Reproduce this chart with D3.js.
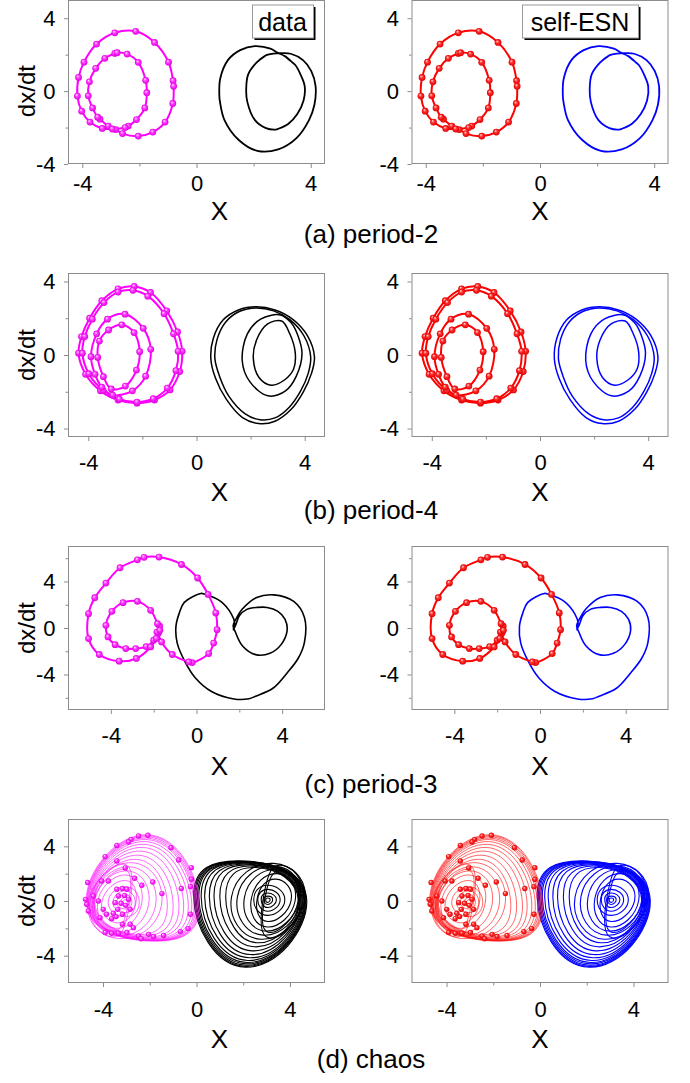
<!DOCTYPE html>
<html>
<head>
<meta charset="utf-8">
<script src="https://cdn.jsdelivr.net/npm/d3@7"></script>
<style>
  body { margin: 0; background: #fff; }
  text { font-family: "Liberation Sans", Arial, sans-serif; fill: #000; }
</style>
</head>
<body>
<svg id="fig" width="690" height="1083"></svg>
<script>
// ---------------- data ----------------
const captions = ["(a) period-2", "(b) period-4", "(c) period-3", "(d) chaos"];
const legendLabels = ["data", "self-ESN"];
const xLabel = "X";
const yLabel = "dx/dt";

const rowXDomains = [[-4.5, 4.5], [-4.75, 4.75], [-6, 6], [-5.5, 5.5]];
const rowYDomains = [[-4, 5], [-4.46, 4.46], [-7.05, 7.05], [-6, 6]];
const xMajorTicks = [-4, 0, 4];
const yMajorTicks = [-4, 0, 4];
const xMinorTicks = [[-2, 2], [-2, 2], [-2, 2], [-2, 2]];
const yMinorTicks = [[-2, 2], [-2, 2], [-6, -2, 2, 6], [-2, 2]];

// period-2 orbit, left well (sampled points, in orbit order)
const period2Left = [[-2.86,3.20],[-2.13,3.28],[-1.47,2.67],[-0.98,1.59],[-0.82,0.57],[-0.80,0.27],[-0.83,-0.68],[-1.10,-1.70],[-1.53,-2.25],[-2.04,-2.47],[-2.59,-2.33],[-2.83,-2.11],[-3.09,-1.92],[-3.38,-1.54],[-3.46,-1.43],[-3.64,-0.92],[-3.79,-0.26],[-3.75,0.51],[-3.53,1.25],[-3.21,1.80],[-2.86,2.07],[-2.78,2.11],[-2.43,2.03],[-2.04,1.58],[-1.78,0.59],[-1.74,-0.09],[-1.81,-0.92],[-2.10,-1.56],[-2.39,-1.92],[-2.50,-2.00],[-2.95,-2.08],[-3.30,-2.05],[-3.73,-1.70],[-4.02,-1.10],[-4.17,-0.27],[-4.13,0.75],[-3.94,1.59],[-3.50,2.58]];
// period-2 orbit, right well
const period2Right = [[2.86,-3.20],[2.13,-3.28],[1.47,-2.67],[0.98,-1.59],[0.82,-0.57],[0.80,-0.27],[0.83,0.68],[1.10,1.70],[1.53,2.25],[2.04,2.47],[2.59,2.33],[2.83,2.11],[3.09,1.92],[3.38,1.54],[3.46,1.43],[3.64,0.92],[3.79,0.26],[3.75,-0.51],[3.53,-1.25],[3.21,-1.80],[2.86,-2.07],[2.78,-2.11],[2.43,-2.03],[2.04,-1.58],[1.78,-0.59],[1.74,0.09],[1.81,0.92],[2.10,1.56],[2.39,1.92],[2.50,2.00],[2.95,2.08],[3.30,2.05],[3.73,1.70],[4.02,1.10],[4.17,0.27],[4.13,-0.75],[3.94,-1.59],[3.50,-2.58]];

// period-4 turns, left well
const period4Left = [
  [[-2.9,3.6],[-2.3,3.73],[-1.7,3.4],[-1.1,2.4],[-0.7,1.25],[-0.53,0.2],[-0.62,-0.9],[-0.98,-1.9],[-1.55,-2.45],[-2.2,-2.62],[-2.9,-2.45],[-3.55,-1.95],[-4.1,-1.05],[-4.36,0.1],[-4.25,1.0],[-3.95,2.0],[-3.5,2.95]],
  [[-2.9,3.42],[-2.35,3.52],[-1.8,3.2],[-1.2,2.25],[-0.85,1.15],[-0.68,0.2],[-0.76,-0.85],[-1.08,-1.8],[-1.6,-2.38],[-2.2,-2.56],[-2.85,-2.4],[-3.45,-1.92],[-3.98,-1.02],[-4.22,0.1],[-4.13,1.0],[-3.85,1.95],[-3.42,2.85]],
  [[-3.29,1.95],[-2.64,2.22],[-1.97,1.45],[-1.69,0.31],[-1.88,-1.15],[-2.37,-1.95],[-3.10,-2.18],[-3.5,-1.75],[-3.75,-1.05],[-3.90,-0.09],[-3.69,1.15]],
  [[-2.76,1.64],[-2.31,1.22],[-2.10,0.18],[-2.22,-0.82],[-2.63,-1.69],[-3.15,-1.85],[-3.44,-1.18],[-3.65,-0.13],[-3.59,0.76],[-3.25,1.36]]
];
// period-4 turns, right well
const period4Right = [
  [[2.9,-3.6],[2.3,-3.73],[1.7,-3.4],[1.1,-2.4],[0.7,-1.25],[0.53,-0.2],[0.62,0.9],[0.98,1.9],[1.55,2.45],[2.2,2.62],[2.9,2.45],[3.55,1.95],[4.1,1.05],[4.36,-0.1],[4.25,-1.0],[3.95,-2.0],[3.5,-2.95]],
  [[2.9,-3.42],[2.35,-3.52],[1.8,-3.2],[1.2,-2.25],[0.85,-1.15],[0.68,-0.2],[0.76,0.85],[1.08,1.8],[1.6,2.38],[2.2,2.56],[2.85,2.4],[3.45,1.92],[3.98,1.02],[4.22,-0.1],[4.13,-1.0],[3.85,-1.95],[3.42,-2.85]],
  [[3.29,-1.95],[2.64,-2.22],[1.97,-1.45],[1.69,-0.31],[1.88,1.15],[2.37,1.95],[3.10,2.18],[3.5,1.75],[3.75,1.05],[3.90,0.09],[3.69,-1.15]],
  [[2.76,-1.64],[2.31,-1.22],[2.10,-0.18],[2.22,0.82],[2.63,1.69],[3.15,1.85],[3.44,1.18],[3.65,0.13],[3.59,-0.76],[3.25,-1.36]]
];

// period-3 orbit, left well
const period3Left = [[-2.45,6.08],[-1.75,6.1],[-0.70,5.46],[0.05,4.3],[0.54,2.89],[0.90,1.3],[0.96,-0.14],[0.80,-1.3],[0.57,-2.2],[-0.20,-2.97],[-0.36,-2.92],[-1.13,-2.28],[-1.63,-1.2],[-1.78,-0.45],[-1.72,0.15],[-1.85,-0.35],[-2.0,-1.05],[-2.35,-1.6],[-2.84,-1.77],[-3.30,-1.77],[-3.80,-1.43],[-4.13,-0.77],[-4.23,0.23],[-3.95,1.43],[-3.43,2.18],[-2.76,2.29],[-2.14,1.52],[-1.82,0.37],[-1.71,-0.2],[-1.88,-0.9],[-2.14,-1.63],[-2.81,-2.62],[-3.61,-2.85],[-4.54,-2.28],[-5.04,-0.91],[-5.04,1.23],[-4.75,2.6],[-4.23,3.86],[-3.57,5.18],[-2.76,5.86]];
// period-3 orbit, right well
const period3Right = [[2.45,-6.08],[1.75,-6.1],[0.70,-5.46],[-0.05,-4.3],[-0.54,-2.89],[-0.90,-1.3],[-0.96,0.14],[-0.80,1.3],[-0.57,2.2],[0.20,2.97],[0.36,2.92],[1.13,2.28],[1.63,1.2],[1.78,0.45],[1.72,-0.15],[1.85,0.35],[2.0,1.05],[2.35,1.6],[2.84,1.77],[3.30,1.77],[3.80,1.43],[4.13,0.77],[4.23,-0.23],[3.95,-1.43],[3.43,-2.18],[2.76,-2.29],[2.14,-1.52],[1.82,-0.37],[1.71,0.2],[1.88,0.9],[2.14,1.63],[2.81,2.62],[3.61,2.85],[4.54,2.28],[5.04,0.91],[5.04,-1.23],[4.75,-2.6],[4.23,-3.86],[3.57,-5.18],[2.76,-5.86]];

// chaotic turns: extreme points (left, top, right, bottom) of each turn, right well
const chaosRight = [
  [[-0.12,0.3],[2.0,2.93],[4.72,0.0],[2.1,-4.85]],
  [[-0.07,0.3],[2.0,2.9],[4.69,0.0],[2.1,-4.78]],
  [[-0.02,0.3],[2.02,2.88],[4.66,0.0],[2.12,-4.7]],
  [[0.04,0.3],[2.05,2.86],[4.63,0.0],[2.14,-4.6]],
  [[0.1,0.3],[2.08,2.84],[4.6,0.0],[2.16,-4.5]],
  [[0.2,0.3],[2.12,2.8],[4.56,0.0],[2.2,-4.35]],
  [[0.35,0.3],[2.17,2.76],[4.52,0.0],[2.25,-4.15]],
  [[0.55,0.3],[2.23,2.7],[4.48,0.0],[2.3,-3.92]],
  [[0.75,0.3],[2.3,2.64],[4.44,0.0],[2.38,-3.65]],
  [[1.0,0.3],[2.42,2.55],[4.4,0.0],[2.48,-3.35]],
  [[1.25,0.3],[2.55,2.45],[4.36,0.0],[2.58,-3.05]],
  [[1.5,0.3],[3.3,2.75],[4.55,0.0],[2.75,-2.8]],
  [[1.75,0.3],[3.35,2.55],[4.45,0.0],[2.85,-2.5]],
  [[2.05,0.25],[3.4,2.3],[4.35,0.0],[2.95,-2.2]],
  [[2.35,0.2],[3.45,2.0],[4.22,0.0],[3.02,-1.9]],
  [[2.6,0.2],[3.4,1.6],[4.05,0.05],[3.05,-1.5]],
  [[2.45,0.1],[3.05,1.15],[3.78,0.1],[3.05,-1.05]],
  [[2.62,0.1],[3.05,0.85],[3.58,0.1],[3.05,-0.75]],
  [[2.77,0.1],[3.05,0.58],[3.42,0.1],[3.05,-0.48]],
  [[2.88,0.1],[3.05,0.36],[3.26,0.1],[3.05,-0.26]],
  [[2.96,0.1],[3.05,0.22],[3.15,0.1],[3.05,-0.1]],
  [[2.9,0.6],[3.7,2.6],[4.62,0.0],[3.1,-2.7]],
  [[2.95,0.4],[3.65,2.2],[4.4,0.0],[3.1,-2.3]]
];
// chaotic turns, left well
const chaosLeft = [
  [[0.12,-0.3],[-2.0,-2.93],[-4.72,0.0],[-2.1,4.85]],
  [[0.07,-0.3],[-2.0,-2.9],[-4.69,0.0],[-2.1,4.78]],
  [[0.02,-0.3],[-2.02,-2.88],[-4.66,0.0],[-2.12,4.7]],
  [[-0.04,-0.3],[-2.05,-2.86],[-4.63,0.0],[-2.14,4.6]],
  [[-0.1,-0.3],[-2.08,-2.84],[-4.6,0.0],[-2.16,4.5]],
  [[-0.2,-0.3],[-2.12,-2.8],[-4.56,0.0],[-2.2,4.35]],
  [[-0.35,-0.3],[-2.17,-2.76],[-4.52,0.0],[-2.25,4.15]],
  [[-0.55,-0.3],[-2.23,-2.7],[-4.48,0.0],[-2.3,3.92]],
  [[-0.75,-0.3],[-2.3,-2.64],[-4.44,0.0],[-2.38,3.65]],
  [[-1.0,-0.3],[-2.42,-2.55],[-4.4,0.0],[-2.48,3.35]],
  [[-1.25,-0.3],[-2.55,-2.45],[-4.36,0.0],[-2.58,3.05]],
  [[-1.5,-0.3],[-3.3,-2.75],[-4.55,0.0],[-2.75,2.8]],
  [[-1.75,-0.3],[-3.35,-2.55],[-4.45,0.0],[-2.85,2.5]],
  [[-2.05,-0.25],[-3.4,-2.3],[-4.35,0.0],[-2.95,2.2]],
  [[-2.35,-0.2],[-3.45,-2.0],[-4.22,0.0],[-3.02,1.9]],
  [[-2.6,-0.2],[-3.4,-1.6],[-4.05,-0.05],[-3.05,1.5]],
  [[-2.45,-0.1],[-3.05,-1.15],[-3.78,-0.1],[-3.05,1.05]],
  [[-2.62,-0.1],[-3.05,-0.85],[-3.58,-0.1],[-3.05,0.75]],
  [[-2.77,-0.1],[-3.05,-0.58],[-3.42,-0.1],[-3.05,0.48]],
  [[-2.88,-0.1],[-3.05,-0.36],[-3.26,-0.1],[-3.05,0.26]],
  [[-2.96,-0.1],[-3.05,-0.22],[-3.15,-0.1],[-3.05,0.1]],
  [[-2.9,-0.6],[-3.7,-2.6],[-4.62,0.0],[-3.1,2.7]],
  [[-2.95,-0.4],[-3.65,-2.2],[-4.4,0.0],[-3.1,2.3]]
];
// sampled points on the chaotic left-well trajectory
const chaosLeftSamples = [[-2.08,4.81],[-2.48,4.76],[-2.80,4.51],[-2.91,4.32],[-3.41,4.07],[-3.91,3.25],[-1.09,3.9],[-0.76,3.0],[-0.22,2.44],[-0.22,1.59],[-0.26,1.05],[-0.65,0.91],[-1.48,0.54],[-1.87,1.39],[-2.65,1.66],[-3.05,2.42],[-3.41,2.93],[-3.77,1.46],[-4.06,1.46],[-4.66,1.35],[-4.75,0.12],[-4.70,-0.24],[-4.42,0.37],[-4.20,0.0],[-3.99,-0.61],[-4.63,-0.73],[-4.13,-1.22],[-3.85,-0.97],[-3.63,-1.29],[-3.91,-2.31],[-3.63,-2.36],[-3.34,-2.36],[-2.98,-2.31],[-2.48,-2.56],[-2.37,-2.76],[-2.05,-2.44],[-1.84,-2.6],[-1.41,-2.52],[-0.69,-2.24],[-0.36,-2.02],[-0.26,-0.97],[-2.70,-1.95],[-2.84,-1.70],[-3.17,-1.70],[-3.44,-1.14],[-3.41,0.86],[-3.17,0.91],[-2.98,0.86],[-3.34,0.37],[-3.08,0.41],[-2.91,0.12],[-3.48,-0.12],[-3.23,-0.17],[-3.03,-0.32],[-2.84,-0.61],[-3.37,-0.61],[-3.56,-0.9],[-3.17,-0.97],[-2.34,1.15]];

// ---------------- layout ----------------
const svg = d3.select("#fig");
const colX = [68, 411.5];
const rowY = [0, 273, 546, 819];
const boxW = 257, boxH = 164;
const tickFont = 22;
const rowTickGap = [7, 13, 13, 14];
const rowXTitleBase = [56, 64, 65, 65];
const captionBase = [243, 519, 793, 1068];

const defs = svg.append("defs");
function ball(id, hi, mid, edge) {
  const g = defs.append("radialGradient").attr("id", id)
    .attr("cx", "50%").attr("cy", "50%").attr("r", "50%")
    .attr("fx", "35%").attr("fy", "30%");
  g.append("stop").attr("offset", "0%").attr("stop-color", hi);
  g.append("stop").attr("offset", "45%").attr("stop-color", mid);
  g.append("stop").attr("offset", "100%").attr("stop-color", edge);
}
ball("ballM", "#ffe6ff", "#ff3cff", "#e000e0");
ball("ballR", "#ffe0e0", "#ff3030", "#e00000");

const styles = [
  { lineL: "#ff00ff", lineR: "#000000", ball: "url(#ballM)" },
  { lineL: "#ff0000", lineR: "#0000ff", ball: "url(#ballR)" }
];

const plainNumber = d => String(d);

function drawPanel(row, col) {
  const g = svg.append("g").attr("transform", `translate(${colX[col]},${rowY[row]})`);
  const x = d3.scaleLinear().domain(rowXDomains[row]).range([0, boxW]);
  const y = d3.scaleLinear().domain(rowYDomains[row]).range([boxH, 0]);
  const st = styles[col];

  // frame
  g.append("rect").attr("x", 0.5).attr("y", 0.5).attr("width", boxW - 1).attr("height", boxH - 1)
    .attr("fill", "none").attr("stroke", "#8c8c8c").attr("stroke-width", 1);

  // axes
  const styleAxis = sel => {
    sel.select(".domain").remove();
    sel.selectAll(".tick line").attr("stroke", "#8c8c8c");
    sel.selectAll(".tick text").attr("font-size", tickFont).attr("fill", "#000")
      .style("font-family", '"Liberation Sans", Arial, sans-serif');
  };
  g.append("g").attr("transform", `translate(0,${boxH})`)
    .call(d3.axisBottom(x).tickValues(xMajorTicks).tickSize(4).tickPadding(rowTickGap[row]).tickFormat(plainNumber))
    .call(styleAxis);
  g.append("g").attr("transform", `translate(0,${boxH})`)
    .call(d3.axisBottom(x).tickValues(xMinorTicks[row]).tickSize(2.5).tickFormat(""))
    .call(styleAxis);
  g.append("g")
    .call(d3.axisLeft(y).tickValues(yMajorTicks).tickSize(4).tickPadding(8.5).tickFormat(plainNumber))
    .call(styleAxis);
  g.append("g")
    .call(d3.axisLeft(y).tickValues(yMinorTicks[row]).tickSize(2.5).tickFormat(""))
    .call(styleAxis);

  // axis titles
  g.append("text").attr("x", col === 0 ? boxW / 2 + 23 : boxW / 2).attr("y", boxH + rowXTitleBase[row])
    .attr("text-anchor", "middle").attr("font-size", 26).text(xLabel);
  if (col === 0) {
    g.append("text").attr("transform", `translate(${35 - colX[0]},${y(0)}) rotate(-90)`)
      .attr("text-anchor", "middle").attr("font-size", 24).text(yLabel);
  }

  // sampled orbits: smooth closed curve through every sample
  const closed = d3.line().x(d => x(d[0])).y(d => y(d[1])).curve(d3.curveCatmullRomClosed.alpha(0.5));
  // single turns given by four extreme points: rounder closed curve
  const turn = d3.line().x(d => x(d[0])).y(d => y(d[1])).curve(d3.curveCardinalClosed.tension(-0.65));
  const marks = (pts, r) => g.append("g").selectAll("circle").data(pts).join("circle")
    .attr("cx", d => x(d[0])).attr("cy", d => y(d[1])).attr("r", r).attr("fill", st.ball);

  if (row === 0 || row === 2) {
    const L = row === 0 ? period2Left : period3Left;
    const R = row === 0 ? period2Right : period3Right;
    g.append("path").datum(R).attr("d", closed).attr("fill", "none")
      .attr("stroke", st.lineR).attr("stroke-width", row === 0 ? 1.8 : 1.6);
    g.append("path").datum(L).attr("d", closed).attr("fill", "none")
      .attr("stroke", st.lineL).attr("stroke-width", 2);
    marks(L, 3.4);
  } else if (row === 1) {
    g.append("g").selectAll("path").data(period4Right).join("path").attr("d", closed)
      .attr("fill", "none").attr("stroke", st.lineR).attr("stroke-width", 1.5);
    g.append("g").selectAll("path").data(period4Left).join("path").attr("d", closed)
      .attr("fill", "none").attr("stroke", st.lineL).attr("stroke-width", 2);
    marks(period4Left.flat(), 3.4);
  } else {
    g.append("g").selectAll("path").data(chaosRight).join("path").attr("d", turn)
      .attr("fill", "none").attr("stroke", st.lineR).attr("stroke-width", 1.1);
    g.append("g").selectAll("path").data(chaosLeft).join("path").attr("d", turn)
      .attr("fill", "none").attr("stroke", st.lineL).attr("stroke-width", 0.8).attr("stroke-opacity", 0.75);
    marks(chaosLeftSamples, 2.7);
  }
}

for (let r = 0; r < 4; r++) {
  for (let c = 0; c < 2; c++) drawPanel(r, c);
  svg.append("text").attr("x", 371).attr("y", captionBase[r]).attr("text-anchor", "middle")
    .attr("font-size", 26).text(captions[r]);
}

// legend boxes of the top row
const legendBoxes = [{ x: 252, w: 61, tx: 282.5 }, { x: 522, w: 116, tx: 580 }];
legendLabels.forEach((lab, i) => {
  const b = legendBoxes[i];
  svg.append("rect").attr("x", b.x + 2.5).attr("y", 7).attr("width", b.w).attr("height", 33).attr("fill", "#000");
  svg.append("rect").attr("x", b.x + 0.5).attr("y", 5).attr("width", b.w).attr("height", 33)
    .attr("fill", "#fff").attr("stroke", "#9a9a9a").attr("stroke-width", 1);
  svg.append("text").attr("x", b.tx).attr("y", 30.5).attr("text-anchor", "middle")
    .attr("font-size", 25).text(lab);
});
</script>
</body>
</html>
